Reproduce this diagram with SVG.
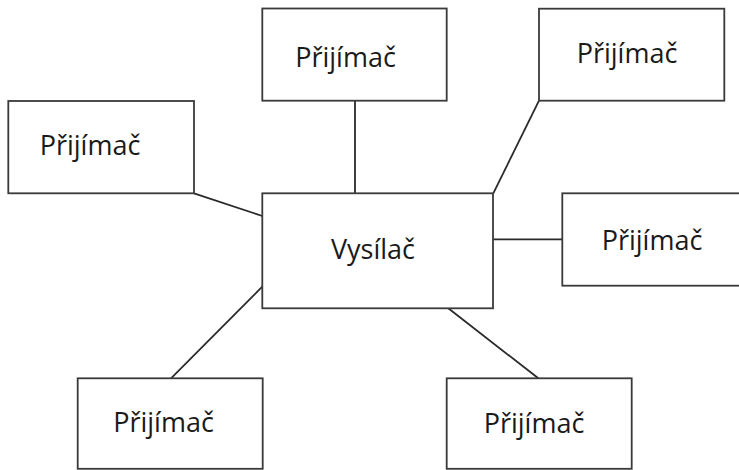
<svg xmlns="http://www.w3.org/2000/svg" width="739" height="470" viewBox="0 0 739 470">
<style>
.box{fill:#fff;stroke:#3a3a3a;stroke-width:1.8}
.lbl{font-family:"Open Sans","Liberation Sans",sans-serif;font-size:27px;fill:#1a1a1a}
.con line{stroke:#2a2a2a;stroke-width:1.8}
</style>
<rect width="739" height="470" fill="#fff"/>
<g class="con" id="connectors">
<line x1="355" y1="100.7" x2="355" y2="193.3"/>
<line x1="194" y1="193.3" x2="262.3" y2="216"/>
<line x1="539" y1="100.7" x2="493.3" y2="193.3"/>
<line x1="493.3" y1="239.3" x2="562.3" y2="239.3"/>
<line x1="262.3" y1="286.7" x2="171" y2="378.3"/>
<line x1="448.3" y1="308.3" x2="538.3" y2="378.3"/>
</g>
<g id="vysilac"><rect class="box" x="262.3" y="193.3" width="230.7" height="115"/><text class="lbl" x="373" y="259" text-anchor="middle">Vysílač</text></g>
<g id="prijimac-top"><rect class="box" x="262.3" y="8.5" width="184.4" height="92.2"/><text class="lbl" x="345.5" y="66.5" text-anchor="middle">Přijímač</text></g>
<g id="prijimac-left"><rect class="box" x="8.3" y="101" width="185.7" height="92.3"/><text class="lbl" x="90" y="155" text-anchor="middle">Přijímač</text></g>
<g id="prijimac-topright"><rect class="box" x="539" y="8.7" width="185.3" height="92"/><text class="lbl" x="627" y="63" text-anchor="middle">Přijímač</text></g>
<g id="prijimac-right"><rect class="box" x="562.3" y="193.3" width="190" height="92.4"/><text class="lbl" x="652" y="250" text-anchor="middle">Přijímač</text></g>
<g id="prijimac-bottomleft"><rect class="box" x="77.7" y="378.3" width="185" height="90.5"/><text class="lbl" x="163.5" y="431.7" text-anchor="middle">Přijímač</text></g>
<g id="prijimac-bottomright"><rect class="box" x="446.7" y="378.3" width="185" height="90.5"/><text class="lbl" x="534" y="432.7" text-anchor="middle">Přijímač</text></g>
</svg>
